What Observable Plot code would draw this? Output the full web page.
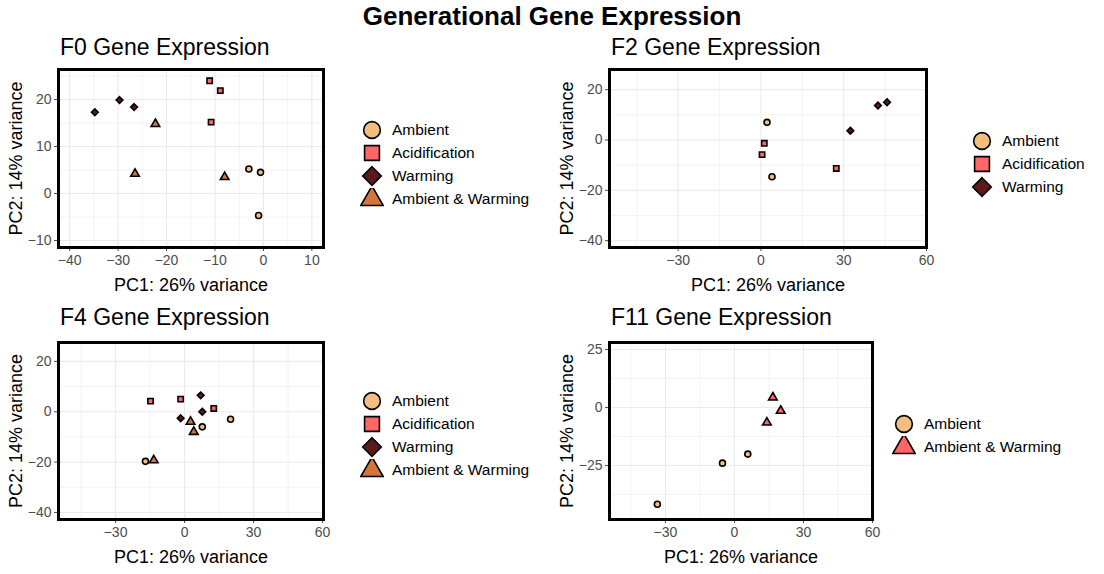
<!DOCTYPE html>
<html>
<head>
<meta charset="utf-8">
<script src="https://cdn.jsdelivr.net/npm/d3@7"></script>
<script src="https://cdn.jsdelivr.net/npm/@observablehq/plot@0.6"></script>
<style>
  body { margin: 0; background: #fff; font-family: "Liberation Sans", Arial, sans-serif; }
  #wrap { position: relative; width: 1104px; height: 574px; }
  .panel { position: absolute; }
  .main { position: absolute; left: 0; width: 1104px; top: 1px; text-align: center; font-size: 26px; font-weight: bold; }
  .ptitle { position: absolute; font-size: 23px; }
  .legend { position: absolute; font-size: 15.5px; }
  .legend div { display: flex; align-items: center; height: 23px; }
  .legend svg { margin-right: 8px; }
</style>
</head>
<body>
<div id="wrap">
  <div class="main">Generational Gene Expression</div>
</div>
<script>
// groups and colours
const groups = ["Ambient", "Acidification", "Warming", "Ambient & Warming"]
const colors = {"Ambient": "#F2BE7E", "Acidification": "#FF6666", "Warming": "#5C1A1A", "Ambient & Warming": "#D57537"}
const shapes = {"Ambient": "circle", "Acidification": "square", "Warming": "diamond2", "Ambient & Warming": "triangle"}

// F0
const f0_group = ["Ambient","Ambient","Ambient","Acidification","Acidification","Acidification","Warming","Warming","Warming","Ambient & Warming","Ambient & Warming","Ambient & Warming"]
const f0_pc1 = [-3.0, -0.6, -1.0, -11.1, -8.9, -10.8, -34.8, -29.7, -26.7, -22.3, -26.5, -8.0]
const f0_pc2 = [5.2, 4.5, -4.7, 24.0, 21.9, 15.2, 17.3, 19.9, 18.4, 14.8, 4.2, 3.5]

// F2
const f2_group = ["Ambient","Ambient","Acidification","Acidification","Acidification","Warming","Warming","Warming"]
const f2_pc1 = [2.2, 4.0, 1.2, 0.4, 27.3, 32.4, 45.7, 42.4]
const f2_pc2 = [7.0, -14.6, -1.3, -5.8, -11.3, 3.7, 15.0, 13.7]

// F4
const f4_group = ["Ambient","Ambient","Ambient","Acidification","Acidification","Acidification","Warming","Warming","Warming","Ambient & Warming","Ambient & Warming","Ambient & Warming"]
const f4_pc1 = [20.0, -17.0, 7.7, -14.8, -1.7, 12.7, -1.7, 7.0, 7.7, -13.4, 2.6, 4.0]
const f4_pc2 = [-3.0, -19.7, -6.0, 4.2, 5.0, 1.3, -2.6, 6.5, 0.0, -19.3, -4.0, -8.0]

// F11 (own palette: A&W shown in pink)
const f11_group = ["Ambient","Ambient","Ambient","Ambient & Warming","Ambient & Warming","Ambient & Warming"]
const f11_pc1 = [-33.5, -5.2, 5.8, 16.7, 14.1, 20.1]
const f11_pc2 = [-41.7, -24.0, -20.1, 4.3, -6.5, -1.4]
const f11_colors = {"Ambient": "#F2BE7E", "Ambient & Warming": "#FF6666"}

const wrap = document.getElementById("wrap")

function minor(t, dom) {
  const step = t[1] - t[0]
  const out = []
  for (let i = -1; i < t.length; i++) out.push(t[0] + step * (i + 0.5))
  return out.filter(v => v > dom[0] && v < dom[1])
}

function panel(o) {
  const data = o.group.map((g, i) => ({g, x: o.pc1[i], y: o.pc2[i]}))
  const gridStyle = {stroke: "#EBEBEB", strokeOpacity: 1}
  const chart = Plot.plot({
    width: o.w, height: o.h,
    marginLeft: o.m[3], marginRight: o.m[1], marginTop: o.m[0], marginBottom: o.m[2],
    style: {fontFamily: "Liberation Sans, Arial, sans-serif", background: "white"},
    x: {domain: o.xd, ticks: o.xt},
    y: {domain: o.yd, ticks: o.yt},
    marks: [
      Plot.ruleX(minor(o.xt, o.xd), {...gridStyle, strokeWidth: 0.6}),
      Plot.ruleY(minor(o.yt, o.yd), {...gridStyle, strokeWidth: 0.6}),
      Plot.ruleX(o.xt, {...gridStyle, strokeWidth: 1.1}),
      Plot.ruleY(o.yt, {...gridStyle, strokeWidth: 1.1}),
      Plot.axisX({ticks: o.xt, tickSize: 4, fontSize: 14, color: "#4D4D4D", label: null, tickPadding: 4}),
      Plot.axisY({ticks: o.yt, tickSize: 4, fontSize: 14, color: "#4D4D4D", label: null, tickPadding: 3}),
      Plot.dot(data, {x: "x", y: "y", r: d => shapes[d.g] === "triangle" ? 17 : 15, symbol: d => shapes[d.g],
        fill: d => o.colors[d.g], stroke: "black", strokeWidth: 1.6, clip: true}),
      Plot.frame({stroke: "black", strokeWidth: 3}),
      Plot.text(["PC1: 26% variance"], {frameAnchor: "bottom", textAnchor: "middle", dy: 43, fontSize: 18, fill: "black"}),
      Plot.text(["PC2: 14% variance"], {frameAnchor: "left", textAnchor: "middle", rotate: -90, dx: -42, fontSize: 18, fill: "black"})
    ]
  })
  chart.classList.add("panel")
  chart.style.left = o.left + "px"
  chart.style.top = o.top + "px"
  wrap.appendChild(chart)

  const t = document.createElement("div")
  t.className = "ptitle"
  t.textContent = o.title
  t.style.left = (o.left + o.m[3] + 2) + "px"
  t.style.top = (o.top + 4) + "px"
  wrap.appendChild(t)

  const lg = document.createElement("div")
  lg.className = "legend"
  lg.style.left = o.lx + "px"
  lg.style.top = o.ly + "px"
  const present = groups.filter(g => o.group.includes(g))
  for (const g of present) {
    const row = document.createElement("div")
    const sym = d3.symbol(({circle: d3.symbolCircle, square: d3.symbolSquare, diamond2: d3.symbolDiamond2, triangle: d3.symbolTriangle})[shapes[g]], 220)()
    row.innerHTML = `<svg width="24" height="22" viewBox="-12 -11 24 22"><path d="${sym}" fill="${o.colors[g]}" stroke="black" stroke-width="1.6"/></svg><span>${g}</span>`
    lg.appendChild(row)
  }
  wrap.appendChild(lg)
}

panel({title: "F0 Gene Expression", group: f0_group, pc1: f0_pc1, pc2: f0_pc2, colors,
  left: 0, top: 30, w: 550, h: 270, m: [39, 227, 53, 58],
  xd: [-42.3, 12.4], yd: [-11.5, 26.4], xt: [-40, -30, -20, -10, 0, 10], yt: [-10, 0, 10, 20],
  lx: 360, ly: 118})
panel({title: "F2 Gene Expression", group: f2_group, pc1: f2_pc1, pc2: f2_pc2, colors,
  left: 550, top: 30, w: 554, h: 270, m: [39, 178, 53, 59],
  xd: [-54.9, 60], yd: [-42.7, 28], xt: [-30, 0, 30, 60], yt: [-40, -20, 0, 20],
  lx: 970, ly: 129})
panel({title: "F4 Gene Expression", group: f4_group, pc1: f4_pc1, pc2: f4_pc2, colors,
  left: 0, top: 300, w: 550, h: 274, m: [42, 227, 55, 58],
  xd: [-54.8, 60.4], yd: [-42.8, 27.5], xt: [-30, 0, 30, 60], yt: [-40, -20, 0, 20],
  lx: 360, ly: 389})
panel({title: "F11 Gene Expression", group: f11_group, pc1: f11_pc1, pc2: f11_pc2, colors: f11_colors,
  left: 550, top: 300, w: 554, h: 274, m: [42, 232, 55, 59],
  xd: [-54.3, 60], yd: [-48.3, 28], xt: [-30, 0, 30, 60], yt: [-25, 0, 25],
  lx: 892, ly: 412})
</script>
</body>
</html>
